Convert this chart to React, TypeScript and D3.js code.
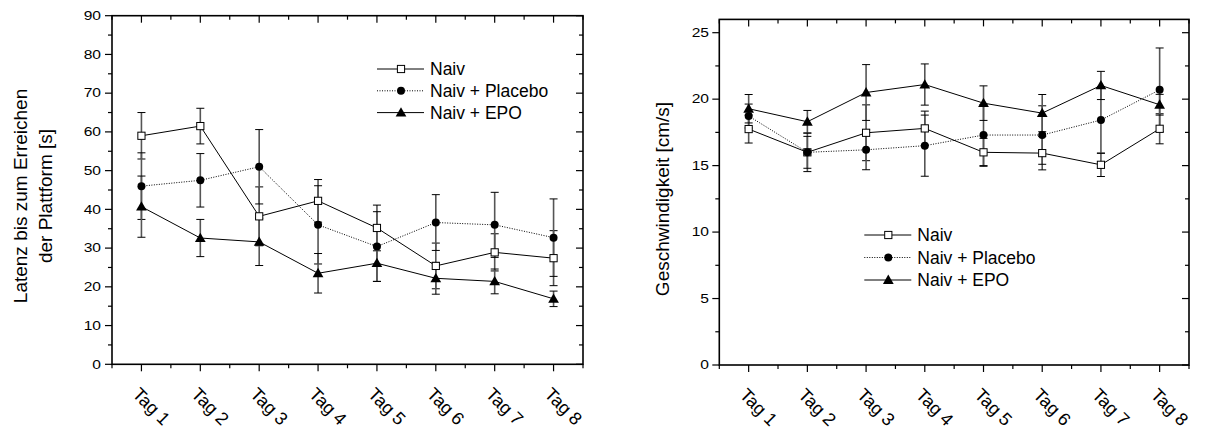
import React from "react";
import * as d3 from "d3";

const days = ["Tag 1", "Tag 2", "Tag 3", "Tag 4", "Tag 5", "Tag 6", "Tag 7", "Tag 8"];
const seriesNames = ["Naiv", "Naiv + Placebo", "Naiv + EPO"];

// Left panel: latency [s]
const naivLat = [59.0, 61.5, 38.2, 42.2, 35.2, 25.4, 28.9, 27.4];
const naivLatErr = [6.0, 4.6, 7.6, 5.5, 5.9, 5.9, 4.8, 7.1];
const placeboLat = [46.0, 47.5, 51.0, 36.0, 30.4, 36.6, 36.0, 32.7];
const placeboLatErr = [8.6, 6.9, 9.6, 10.1, 9.0, 7.2, 8.4, 10.0];
const epoLat = [40.7, 32.6, 31.6, 23.5, 26.1, 22.2, 21.4, 16.9];
const epoLatErr = [7.9, 4.8, 6.1, 5.1, 4.7, 4.1, 3.2, 2.0];

// Right panel: speed [cm/s]
const naivSpd = [17.75, 16.0, 17.47, 17.8, 16.0, 15.94, 15.06, 17.77];
const naivSpdErr = [1.05, 1.45, 2.1, 1.3, 1.05, 1.26, 0.88, 1.13];
const placeboSpd = [18.73, 16.0, 16.19, 16.5, 17.3, 17.3, 18.43, 20.7];
const placeboSpdErr = [0.9, 1.2, 1.5, 2.3, 2.3, 2.2, 2.5, 3.15];
const epoSpd = [19.28, 18.3, 20.5, 21.1, 19.7, 18.95, 21.03, 19.58];
const epoSpdErr = [1.07, 0.85, 2.1, 1.55, 1.3, 1.4, 1.06, 0.78];

const latTicks = [0, 10, 20, 30, 40, 50, 60, 70, 80, 90];
const spdTicks = [0, 5, 10, 15, 20, 25];

const FONT = "Liberation Sans, Arial, sans-serif";

type Series = { name: string; values: number[]; errs: number[]; marker: string; dash: string | null };

function Marker({ type, x, y }: { type: string; x: number; y: number }) {
  if (type === "square")
    return <rect x={x - 3.6} y={y - 3.6} width={7.2} height={7.2} fill="white" stroke="black" strokeWidth={1} />;
  if (type === "circle") return <circle cx={x} cy={y} r={4} fill="black" />;
  const tri = d3.symbol(d3.symbolTriangle, 50)();
  return <path d={tri || ""} transform={`translate(${x},${y + 0.8})`} fill="black" />;
}

function Panel(props: {
  x0: number; x1: number; yTop: number; yBot: number; yMax: number;
  ticks: number[]; minorStep: number; series: Series[];
  labelLines: string[]; labelX: number[]; labelY: number;
  tickLabelEnd: number; legendX: number; legendY: number; legendGap: number;
}) {
  const { x0, x1, yTop, yBot, yMax, ticks, minorStep, series } = props;
  const x = d3.scaleLinear().domain([0.5, 8.5]).range([x0, x1]);
  const y = d3.scaleLinear().domain([0, yMax]).range([yBot, yTop]);
  const majorX = d3.range(1, 9);
  const minorX = d3.range(1.5, 8.5, 1);
  const minorY = d3.range(minorStep, yMax, minorStep * 2).filter((v) => !ticks.includes(v));
  const line = d3.line<number>().x((_, i) => x(i + 1)).y((d) => y(d));
  const MJ = 7, MN = 4;
  return (
    <g>
      {/* error bars */}
      {series.map((s) =>
        s.values.map((v, i) => {
          const cx = x(i + 1);
          const top = y(v + s.errs[i]);
          const bot = y(v - s.errs[i]);
          return (
            <g key={s.name + i}>
              <line x1={cx} x2={cx} y1={top} y2={bot} stroke="#555" strokeWidth={1.6} />
              <line x1={cx - 4} x2={cx + 4} y1={top} y2={top} stroke="black" strokeWidth={1} />
              <line x1={cx - 4} x2={cx + 4} y1={bot} y2={bot} stroke="black" strokeWidth={1} />
            </g>
          );
        })
      )}
      {/* lines */}
      {series.map((s) => (
        <path key={s.name} d={line(s.values) || ""} fill="none" stroke="black" strokeWidth={1}
          strokeDasharray={s.dash || undefined} />
      ))}
      {/* markers */}
      {series.map((s) => s.values.map((v, i) => <Marker key={s.name + "m" + i} type={s.marker} x={x(i + 1)} y={y(v)} />))}
      {/* frame */}
      <rect x={x0} y={yTop} width={x1 - x0} height={yBot - yTop} fill="none" stroke="black" strokeWidth={1.6} />
      {/* x ticks */}
      {majorX.map((t) => (
        <g key={"mx" + t}>
          <line x1={x(t)} x2={x(t)} y1={yBot} y2={yBot + MJ} stroke="black" strokeWidth={1.2} />
          <line x1={x(t)} x2={x(t)} y1={yTop} y2={yTop + MJ} stroke="black" strokeWidth={1.2} />
          <text transform={`translate(${x(t) - 10},${yBot + 31}) rotate(45)`} fontFamily={FONT} fontSize={18} fill="black">
            {days[t - 1]}
          </text>
        </g>
      ))}
      {[0.5, ...minorX, 8.5].map((t) => (
        <g key={"nx" + t}>
          <line x1={x(t)} x2={x(t)} y1={yBot} y2={yBot + MN} stroke="black" strokeWidth={1.2} />
          <line x1={x(t)} x2={x(t)} y1={yTop} y2={yTop + MN} stroke="black" strokeWidth={1.2} />
        </g>
      ))}
      {/* y ticks */}
      {ticks.map((t) => (
        <g key={"my" + t}>
          <line x1={x0 - MJ} x2={x0} y1={y(t)} y2={y(t)} stroke="black" strokeWidth={1.2} />
          <line x1={x1 - MJ} x2={x1} y1={y(t)} y2={y(t)} stroke="black" strokeWidth={1.2} />
          <text transform={`translate(${props.tickLabelEnd},${y(t) + 4.3}) scale(1.3,1)`} textAnchor="end"
            fontFamily={FONT} fontSize={12} fill="black">
            {t}
          </text>
        </g>
      ))}
      {minorY.map((t) => (
        <g key={"ny" + t}>
          <line x1={x0 - MN} x2={x0} y1={y(t)} y2={y(t)} stroke="black" strokeWidth={1.2} />
          <line x1={x1 - MN} x2={x1} y1={y(t)} y2={y(t)} stroke="black" strokeWidth={1.2} />
        </g>
      ))}
      {/* axis label */}
      {props.labelLines.map((l, i) => (
        <text key={l} transform={`translate(${props.labelX[i]},${props.labelY}) rotate(-90)`} textAnchor="middle"
          fontFamily={FONT} fontSize={19} fill="black">
          {l}
        </text>
      ))}
      {/* legend */}
      {series.map((s, i) => {
        const ly = props.legendY + i * props.legendGap;
        const lx = props.legendX;
        return (
          <g key={"lg" + s.name}>
            <line x1={lx} x2={lx + 47} y1={ly} y2={ly} stroke="black" strokeWidth={1} strokeDasharray={s.dash || undefined} />
            <Marker type={s.marker} x={lx + 24} y={ly} />
            <text x={lx + 53} y={ly + 6} fontFamily={FONT} fontSize={17.5} fill="black">
              {s.name}
            </text>
          </g>
        );
      })}
    </g>
  );
}

export default function App() {
  const latSeries: Series[] = [
    { name: seriesNames[0], values: naivLat, errs: naivLatErr, marker: "square", dash: null },
    { name: seriesNames[1], values: placeboLat, errs: placeboLatErr, marker: "circle", dash: "1,1.5" },
    { name: seriesNames[2], values: epoLat, errs: epoLatErr, marker: "triangle", dash: null },
  ];
  const spdSeries: Series[] = [
    { name: seriesNames[0], values: naivSpd, errs: naivSpdErr, marker: "square", dash: null },
    { name: seriesNames[1], values: placeboSpd, errs: placeboSpdErr, marker: "circle", dash: "1,1.5" },
    { name: seriesNames[2], values: epoSpd, errs: epoSpdErr, marker: "triangle", dash: null },
  ];
  return (
    <svg width={1207} height={437} style={{ position: "absolute", left: 0, top: 0, background: "white" }}>
      <rect width={1207} height={437} fill="white" />
      <Panel x0={112} x1={583} yTop={15.7} yBot={364.3} yMax={90} ticks={latTicks} minorStep={5}
        series={latSeries} labelLines={["Latenz bis zum Erreichen", "der Plattform [s]"]} labelX={[27, 52]} labelY={196}
        tickLabelEnd={101} legendX={377} legendY={69} legendGap={21.8} />
      <Panel x0={719.3} x1={1189} yTop={19.4} yBot={365} yMax={26} ticks={spdTicks} minorStep={2.5}
        series={spdSeries} labelLines={["Geschwindigkeit [cm/s]"]} labelX={[669]} labelY={199}
        tickLabelEnd={709} legendX={864.3} legendY={235} legendGap={22.5} />
    </svg>
  );
}
